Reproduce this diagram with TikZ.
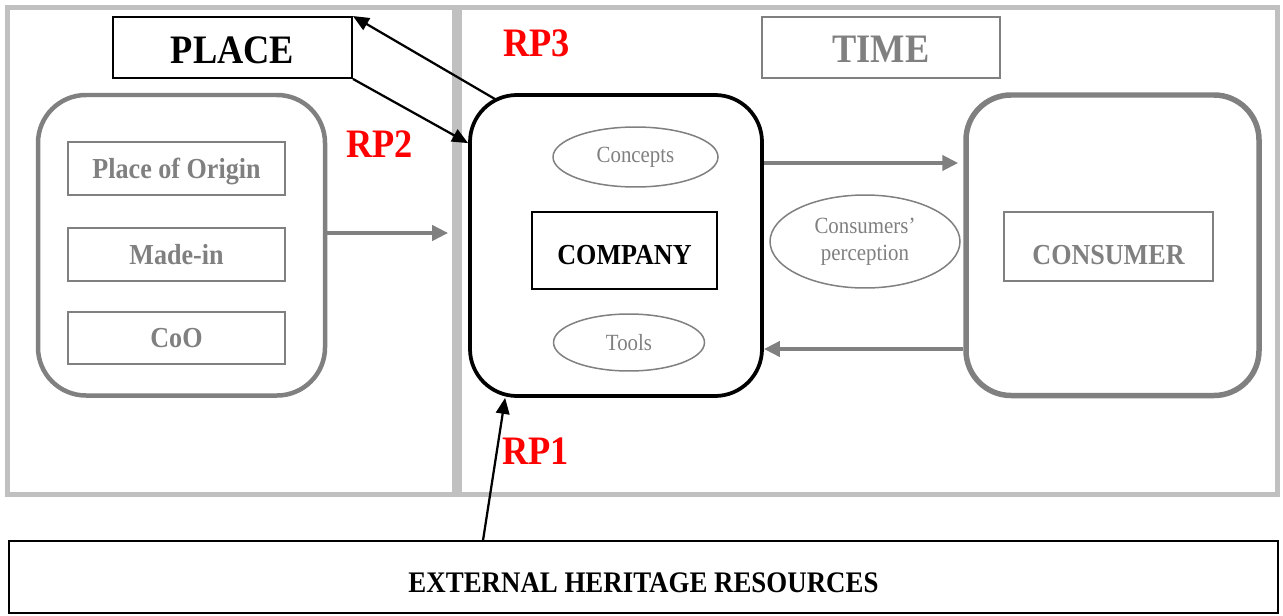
\documentclass[tikz,border=0pt]{standalone}
\usepackage{fontspec}
\setmainfont{Liberation Serif}[FakeStretch=0.9]
\usetikzlibrary{arrows.meta,fit,calc,shapes.geometric}
\definecolor{panelgray}{HTML}{C0C0C0}
\definecolor{boxgray}{HTML}{808080}
\definecolor{rpred}{HTML}{FF0000}

\begin{document}
\begin{tikzpicture}[x=0.02cm, y=-0.02cm,
  panel/.style={draw=panelgray, line width=0.1cm, inner sep=0pt},
  group/.style={draw=boxgray, line width=0.09cm, rounded corners=0.96cm, inner sep=0pt},
  firm/.style={draw=black, line width=0.075cm, rounded corners=0.94cm, inner sep=0pt},
  market/.style={draw=boxgray, line width=0.11cm, rounded corners=0.9cm, inner sep=0pt},
  headbox/.style={draw=#1, line width=0.038cm, inner sep=0pt},
  itembox/.style={draw=boxgray, line width=0.035cm, inner sep=0pt},
  headtext/.style={inner sep=0pt, text depth=0pt, text=#1, font=\fontsize{23}{27}\selectfont\bfseries},
  itemtext/.style={inner sep=0pt, text depth=0pt, text=#1, font=\fontsize{16.5}{19}\selectfont\bfseries},
  bubble/.style={ellipse, draw=boxgray, line width=0.03cm, inner sep=0pt, text=boxgray,
    align=center, font=\fontsize{13.2}{15.5}\selectfont},
  rp/.style={inner sep=0pt, text depth=0pt, text=rpred, font=\fontsize{23}{27}\selectfont\bfseries},
  flow/.style={draw=boxgray, line width=0.08cm, -{Triangle[length=0.32cm,width=0.3cm]}},
  link/.style={draw=black, line width=0.045cm, -{Triangle[length=0.32cm,width=0.27cm]}},
]
\useasboundingbox (0,0) rectangle (1283,615);
\fill[white] (0,0) rectangle (1283,615);

% the two frames: place and time
\node[panel, fit={(7.5,7.5) (454.5,494.5)}] (placepanel) {};
\node[panel, fit={(459.5,7.5) (1277.5,494.5)}] (timepanel) {};

% headings
\node[headbox=black, fit={(113,17) (352,78)},
      label={[headtext=black, yshift=-1.4pt]center:PLACE}] (place) {};
\node[headbox=boxgray, fit={(762,17) (1000,78)},
      label={[headtext=boxgray, yshift=-1.2pt]center:TIME}] (time) {};

% origin group
\node[group, fit={(38,95) (325,395.5)}] (origin) {};
\node[itembox, fit={(68,142) (285,195)},
      label={[itemtext=boxgray]center:Place of Origin}] (poo) {};
\node[itembox, fit={(68,228) (285,281)},
      label={[itemtext=boxgray]center:Made-in}] (madein) {};
\node[itembox, fit={(68,312) (285,364)},
      label={[itemtext=boxgray]center:CoO}] (coo) {};

% company
\node[firm, fit={(470,95) (762,396)}] (company) {};
\node[bubble, minimum width=3.3cm, minimum height=1.2cm] (concepts) at (635.5,157) {Concepts};
\node[headbox=black, fit={(532,212) (717,289)},
      label={[itemtext=black, yshift=-2.3pt]center:COMPANY}] (companybox) {};
\node[bubble, minimum width=3.02cm, minimum height=1.14cm] (tools) at (629,342.5) {Tools};

% consumer
\node[market, fit={(966,95) (1259,395.5)}] (consumer) {};
\node[headbox=boxgray, fit={(1004,212) (1213,281)},
      label={[itemtext=boxgray, yshift=-4.8pt]center:CONSUMER}] (consumerbox) {};
\node[bubble, minimum width=3.8cm, minimum height=1.86cm] (perception) at (865,241.5)
  {Consumers’\\perception};

% external resources
\node[headbox=black, fit={(9,541) (1278,613)},
      label={[itemtext=black, font=\fontsize{17}{20}\selectfont\bfseries, yshift=-3.4pt]center:EXTERNAL HERITAGE RESOURCES}] (ehr) {};

% research propositions
\node[rp] (rp3) at (536.5,43.5) {RP3};
\node[rp] (rp2) at (379.5,144) {RP2};
\node[rp] (rp1) at (535.5,451) {RP1};

% levels of the horizontal flows
\coordinate (lvlorigin) at (0,233);
\coordinate (lvlout) at (0,163);
\coordinate (lvlback) at (0,349);

\draw[flow, shorten >=0.4cm] (origin.east |- lvlorigin) -- (company.west |- lvlorigin);
\draw[flow, shorten >=0.1cm] (company.east |- lvlout) -- (consumer.west |- lvlout);
\draw[flow] (consumer.west |- lvlback) -- (company.east |- lvlback);

% links to place and from external resources
\draw[link] ($(company.north west)+(27,6)$) -- (place.north east);
\draw[link] (place.south east) -- ($(company.north west)+(0,50)$);
\draw[link] ($(ehr.north west)+(475,0)$) -- ($(company.south west)+(37,0)$);
\end{tikzpicture}
\end{document}
